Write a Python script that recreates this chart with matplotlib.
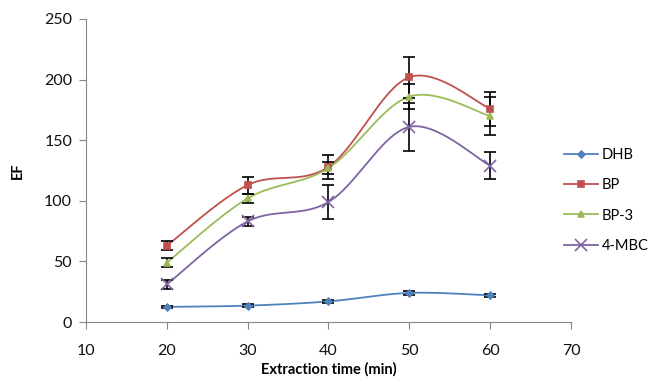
import numpy as np
import matplotlib
matplotlib.use('agg')
import matplotlib.pyplot as plt

plt.rcParams['font.family'] = ['Lato', 'DejaVu Sans']

TIME = [20, 30, 40, 50, 60]
DHB = [12.5, 13.5, 17, 24, 22]
DHB_ERR = [1, 1.2, 1, 1.5, 1.5]
BP = [63, 113, 128, 202, 176]
BP_ERR = [3.5, 7, 10, 17, 14]
BP3 = [49, 102, 127, 186, 170]
BP3_ERR = [4, 4, 5, 10, 16]
MBC = [31, 83, 99, 161, 129]
MBC_ERR = [4, 4, 14, 20, 11]

SERIES = [
    ('DHB', DHB, DHB_ERR, '#4F81BD', 'D', 3.5),
    ('BP', BP, BP_ERR, '#C0504D', 's', 5),
    ('BP-3', BP3, BP3_ERR, '#9BBB59', '^', 5),
    ('4-MBC', MBC, MBC_ERR, '#8064A2', 'x', 8),
]


def smooth(x, y, n=40):
    # excel-like bezier smoothing through the points
    x = np.asarray(x, float)
    y = np.asarray(y, float)
    px = np.concatenate([[x[0]], x, [x[-1]]])
    py = np.concatenate([[y[0]], y, [y[-1]]])
    xs, ys = [], []
    t = np.linspace(0, 1, n)
    for i in range(1, len(px) - 2):
        p0 = np.array([px[i], py[i]])
        p3 = np.array([px[i + 1], py[i + 1]])
        p1 = p0 + (np.array([px[i + 1], py[i + 1]]) - np.array([px[i - 1], py[i - 1]])) / 6
        p2 = p3 - (np.array([px[i + 2], py[i + 2]]) - np.array([px[i], py[i]])) / 6
        b = ((1 - t) ** 3)[:, None] * p0 + (3 * (1 - t) ** 2 * t)[:, None] * p1 \
            + (3 * (1 - t) * t ** 2)[:, None] * p2 + (t ** 3)[:, None] * p3
        xs.append(b[:, 0])
        ys.append(b[:, 1])
    return np.concatenate(xs), np.concatenate(ys)


fig = plt.figure(figsize=(6.53, 3.86), dpi=100)
ax = fig.add_axes([0.1317, 0.1658, 0.7427, 0.785])

handles = []
for name, vals, err, color, marker, ms in SERIES:
    sx, sy = smooth(TIME, vals)
    ax.plot(sx, sy, color=color, lw=1.3, zorder=2)
    ax.errorbar(TIME, vals, yerr=err, fmt='none', ecolor='black', elinewidth=1.2,
                capsize=4, capthick=1.2, zorder=3)
    ax.plot(TIME, vals, ls='none', marker=marker, color=color, ms=ms, mew=1.2, zorder=4)
    h, = ax.plot([], [], color=color, marker=marker, ms=ms, lw=1.3, mew=1.2, label=name)
    handles.append(h)

ax.set_xlim(10, 70)
ax.set_ylim(0, 250)
ax.set_xticks(range(10, 71, 10))
ax.set_yticks(range(0, 251, 50))
for s in ['top', 'right']:
    ax.spines[s].set_visible(False)
for s in ['left', 'bottom']:
    ax.spines[s].set_color('#868686')
ax.tick_params(colors='#868686', labelcolor='#111111', labelsize=11.5, length=5, direction='out')
ax.tick_params(axis='x', pad=11)
ax.tick_params(axis='y', pad=5)

ax.set_xlabel('Extraction time (min)', fontsize=10.5, fontweight='bold', labelpad=3)
ax.set_ylabel('EF', fontsize=10.5, fontweight='bold', labelpad=14)

fig.legend(handles=handles, loc='upper left', bbox_to_anchor=(0.864, 0.617), frameon=False,
           fontsize=10.5, handlelength=2.3, labelspacing=1.12, handletextpad=0.25,
           borderpad=0, borderaxespad=0)

fig.savefig('out.png', dpi=100)
